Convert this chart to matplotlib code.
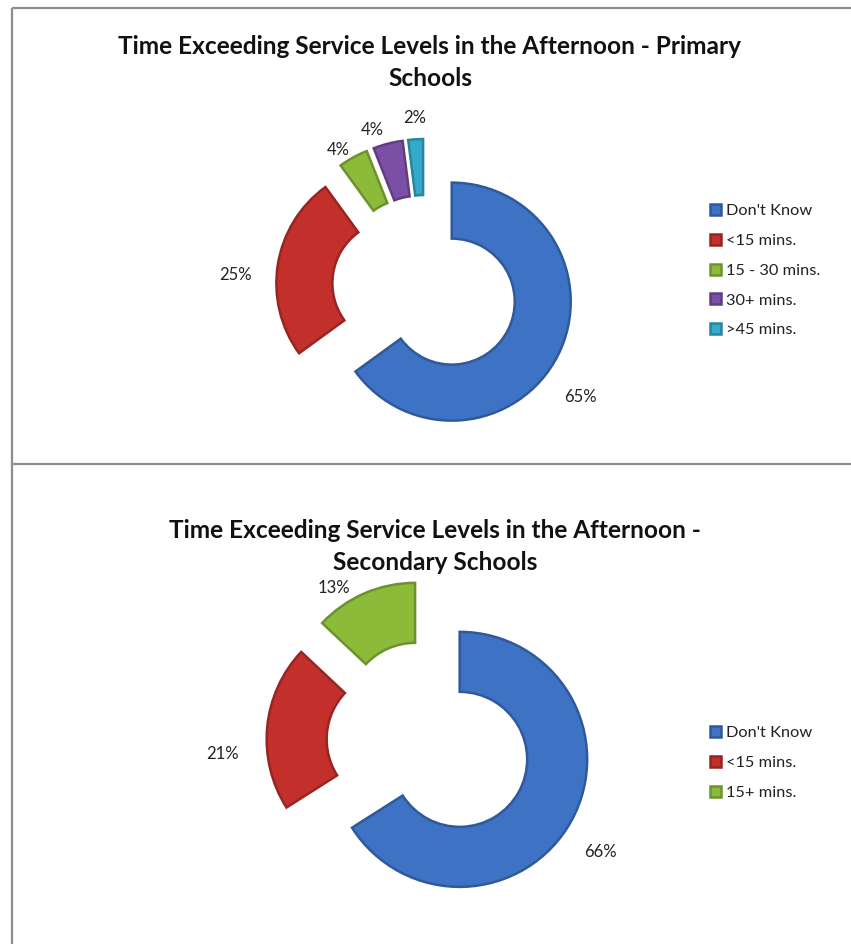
import matplotlib
matplotlib.use("Agg")
import matplotlib.pyplot as plt
import numpy as np

# Survey shares (percent) for each school type
primary_labels = ["Don't Know", "<15 mins.", "15 - 30 mins.", "30+ mins.", ">45 mins."]
primary_values = [65, 25, 4, 4, 2]
primary_colors = ["#3d72c4", "#c3302c", "#8cbb3a", "#7b4fa6", "#33aacb"]

secondary_labels = ["Don't Know", "<15 mins.", "15+ mins."]
secondary_values = [66, 21, 13]
secondary_colors = ["#3d72c4", "#c3302c", "#8cbb3a"]

primary_title = "Time Exceeding Service Levels in the Afternoon - Primary\nSchools"
secondary_title = "Time Exceeding Service Levels in the Afternoon -\nSecondary Schools"

W, H = 851, 944
FONT = "Lato"


def darker(hex_color, f=0.7):
    rgb = np.array(matplotlib.colors.to_rgb(hex_color))
    return tuple(rgb * f)


def donut(ax, values, labels, colors, center, radius, ring, explode_px,
          label_dist, label_turn, legend_anchor, legend_spacing):
    total = float(sum(values))
    # pie offsets exploded wedges in data units
    explode = [explode_px] * len(values)
    wedges, _ = ax.pie(values, colors=colors, explode=explode, startangle=90,
                       counterclock=False, center=center, radius=radius,
                       wedgeprops=dict(width=ring, linewidth=1.8),
                       frame=True)
    for w, c in zip(wedges, colors):
        w.set_edgecolor(darker(c, 0.78))
    # percentage labels placed outside each exploded segment
    for w, v, d, turn in zip(wedges, values, label_dist, label_turn):
        mid = np.deg2rad((w.theta1 + w.theta2) / 2.0 + turn)
        cx, cy = w.center
        x = cx + d * radius * np.cos(mid)
        y = cy + d * radius * np.sin(mid)
        ax.text(x, y, f"{100 * v / total:.0f}%", ha="center", va="center",
                fontsize=12, family=FONT, color="#222222")
    leg = ax.legend(wedges, labels, loc="upper left", bbox_to_anchor=legend_anchor,
                    bbox_transform=ax.transData, frameon=False,
                    prop=dict(family=FONT, size=11.8), handlelength=0.65,
                    handleheight=0.65, handletextpad=0.3,
                    labelspacing=legend_spacing, borderaxespad=0, borderpad=0)
    for t in leg.get_texts():
        t.set_color("#222222")
    return leg


fig = plt.figure(figsize=(W / 100, H / 100), dpi=100)
fig.patch.set_facecolor("white")

ax = fig.add_axes([0, 0, 1, 1])

leg1 = donut(ax, primary_values, primary_labels, primary_colors,
             center=(425, H - 288), radius=119, ring=56, explode_px=30,
             label_dist=[1.345, 1.345, 1.12, 1.15, 1.18],
             label_turn=[-9.6, 6, 4, 5, 0],
             legend_anchor=(710, H - 204), legend_spacing=0.95)
ax.add_artist(leg1)
donut(ax, secondary_values, secondary_labels, secondary_colors,
      center=(429, H - 742.5), radius=127.5, ring=60, explode_px=35,
      label_dist=[1.32, 1.35, 1.15],
      label_turn=[-4.5, 10.4, 10],
      legend_anchor=(710, H - 726), legend_spacing=0.95)

ax.set_xlim(0, W)
ax.set_ylim(0, H)
ax.set_aspect("equal")
ax.axis("off")

# chart titles
ax.text(430, H - 62.5, primary_title, ha="center", va="center", fontsize=17.6,
        fontweight="bold", family=FONT, color="#111111", linespacing=1.45)
ax.text(435, H - 546.5, secondary_title, ha="center", va="center", fontsize=17.6,
        fontweight="bold", family=FONT, color="#111111", linespacing=1.45)

# panel frames
frame_kw = dict(color="#8e8e8e", linewidth=1.6, solid_capstyle="butt")
ax.plot([11.5, W], [H - 8, H - 8], **frame_kw)
ax.plot([11.5, 11.5], [0, H - 8], **frame_kw)
ax.plot([11.5, W], [H - 464, H - 464], **frame_kw)

fig.savefig("out.png", dpi=100, facecolor="white")
